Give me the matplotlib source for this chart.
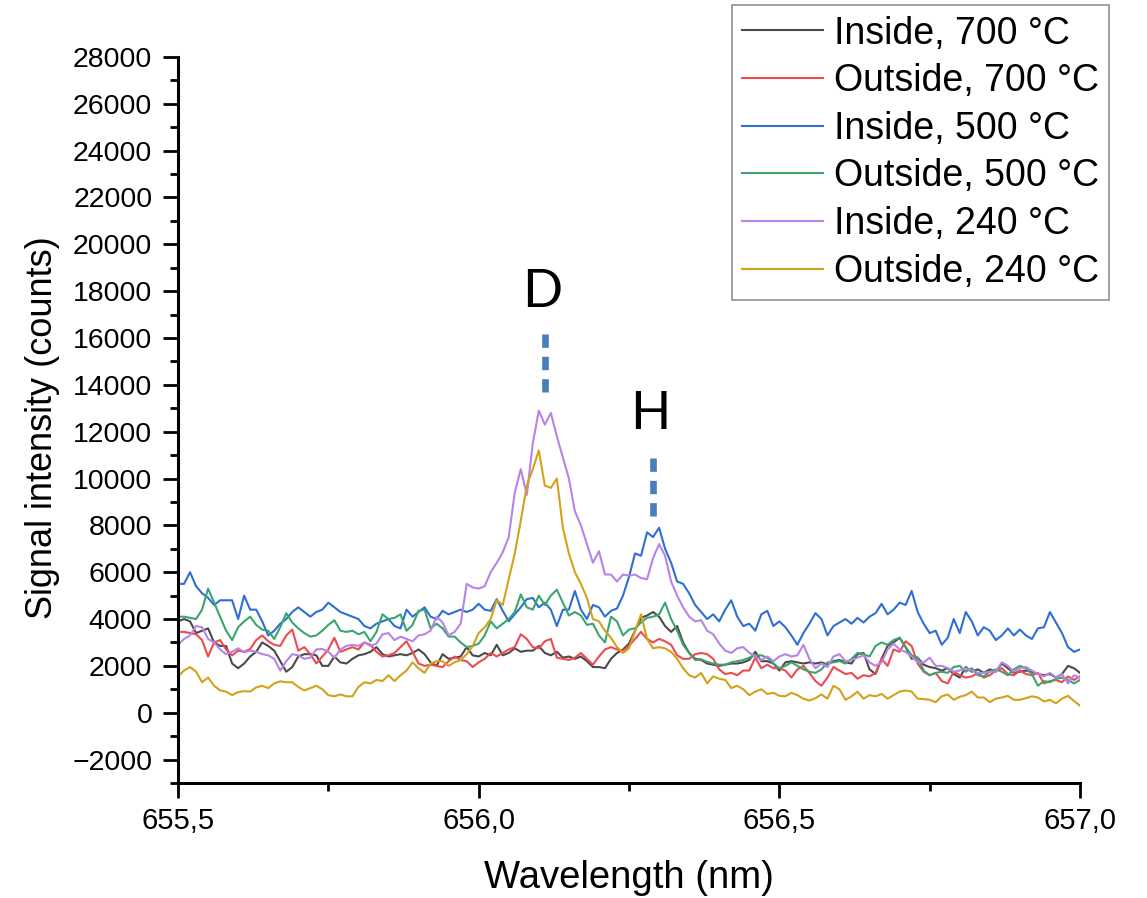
import numpy as np
import matplotlib
matplotlib.use("Agg")
import matplotlib.pyplot as plt
from matplotlib.ticker import MultipleLocator, FuncFormatter

plt.rcParams["font.family"] = ["Liberation Sans", "DejaVu Sans"]

# Wavelength grid (nm), 0.01 nm steps
wavelength = np.linspace(655.5, 657.0, 151)

inside_700 = [
    3900, 4000, 3900, 3400, 3500, 3600, 3000, 2850, 2850, 2100,
    1900, 2100, 2400, 2600, 3000, 2850, 2650, 2200, 1750, 1950,
    2400, 2500, 2500, 2450, 2000, 2000, 2400, 2150, 2100, 2300,
    2450, 2500, 2600, 2800, 2500, 2400, 2450, 2500, 2450, 2550,
    2700, 2500, 2150, 2000, 2500, 2300, 2350, 2400, 2800, 2450,
    2400, 2550, 2450, 2900, 2450, 2550, 2750, 2600, 2650, 2650,
    2850, 2550, 2450, 2600, 2350, 2400, 2300, 2400, 2200, 1950,
    1950, 1900, 2300, 2550, 2700, 2950, 3500, 4050, 4150, 4300,
    4100, 3700, 3450, 3700, 3000, 2550, 2300, 2250, 2100, 2050,
    2000, 2050, 2100, 2100, 2150, 2250, 2600, 2200, 2200, 2100,
    1800, 2150, 2200, 2150, 2100, 2150, 2100, 2150, 2050, 2200,
    2250, 2150, 2100, 2500, 2550, 1850, 1650, 2300, 2850, 3000,
    3200, 2800, 2300, 2350, 2050, 1950, 1900, 1800, 1900, 1650,
    1500, 1950, 1750, 1850, 1700, 1850, 1750, 2100, 1900, 1700,
    1750, 1800, 1750, 1650, 1600, 1650, 1500, 1650, 2000, 1900, 1700,
]

outside_700 = [
    3450, 3450, 3400, 3350, 3100, 2400, 3000, 3100, 2700, 2450,
    2650, 2600, 2720, 3100, 3300, 3050, 2900, 2850, 3300, 3550,
    2650, 2800, 2500, 2100, 2400, 2700, 3200, 2600, 2700, 2800,
    2700, 3000, 2900, 2600, 2400, 2450, 2550, 2800, 3050, 2600,
    2100, 2000, 2050, 2000, 1950, 2200, 2400, 2250, 2200, 1950,
    2150, 2300, 2550, 2400, 2550, 2700, 2800, 3350, 3150, 2800,
    2750, 3050, 3150, 2350, 2300, 2250, 2350, 2550, 2300, 2050,
    2400, 2700, 2800, 2700, 2650, 2850, 3150, 3450, 3150, 3000,
    3150, 3050, 2900, 2450, 2300, 2300, 2500, 2550, 2500, 2300,
    1850, 1650, 1700, 1600, 1800, 1800, 2350, 1900, 2050, 1900,
    1900, 1800, 1500, 1850, 2000, 1700, 1350, 1150, 1500, 1950,
    1800, 1650, 1700, 1450, 1600, 1550, 1700, 2300, 2000, 2700,
    2600, 3050, 2850, 2100, 1750, 1600, 1700, 1350, 1250, 1750,
    1600, 1500, 1550, 1700, 1500, 1600, 1800, 1900, 1650, 1600,
    1800, 1650, 1600, 1700, 1250, 1350, 1400, 1300, 1550, 1400, 1550,
]

inside_500 = [
    5500, 5500, 6000, 5400, 5100, 4900, 4600, 4800, 4800, 4800,
    4000, 5000, 4400, 4400, 3900, 3300, 3500, 3800, 4000, 4300,
    4500, 4300, 4100, 4300, 4400, 4700, 4500, 4300, 4200, 4100,
    4000, 3700, 3600, 3800, 3900, 4000, 3700, 3600, 4400, 4100,
    4300, 4500, 4100, 4000, 4350, 4200, 4300, 4400, 4300, 4400,
    4650, 4400, 4350, 4850, 4350, 3900, 4200, 4500, 4850, 4900,
    4500, 4700, 4400, 3700, 4400, 4400, 5200, 4400, 4000, 4600,
    4500, 4100, 4350, 4450, 5000, 5800, 6800, 6700, 7700, 7500,
    7900, 7000, 6400, 5600, 5500, 5100, 4600, 4300, 4000, 4200,
    3900, 4400, 4800, 4100, 3700, 3800, 3500, 4200, 4350, 3700,
    3900, 3650, 3300, 2900, 3400, 3800, 4250, 4000, 3300, 3700,
    3850, 4000, 3800, 4050, 3850, 4100, 4250, 4650, 4200, 4400,
    4700, 4600, 5200, 4300, 3800, 3400, 3500, 2900, 3200, 4000,
    3400, 4300, 3900, 3300, 3650, 3500, 3100, 3300, 3600, 3300,
    3550, 3300, 3150, 3600, 3650, 4300, 3850, 3400, 2800, 2600, 2700,
]

outside_500 = [
    4100, 4100, 4050, 4000, 4400, 5300, 4700, 4100, 3500, 3100,
    3650, 3900, 4100, 3750, 3550, 3500, 3150, 3650, 4250, 3850,
    3600, 3400, 3250, 3300, 3500, 3750, 3950, 3500, 3450, 3500,
    3350, 3450, 3050, 3450, 4200, 4000, 4050, 4200, 3500, 3750,
    4350, 4400, 3600, 3800, 3600, 3250, 3250, 3000, 2800, 2850,
    2950, 3300, 3900, 3600, 3800, 4000, 4300, 5050, 4500, 4400,
    5000, 4600, 5000, 5250, 4700, 4150, 4300, 4150, 3750, 3800,
    3300, 3000, 4100, 3900, 3300, 3550, 3600, 3850, 4050, 4100,
    4200, 4700, 4000, 3500, 2900, 2550, 2250, 2280, 2170, 2100,
    2050, 2050, 2150, 2200, 2250, 2350, 2450, 2450, 2350, 2100,
    1900, 2000, 2150, 2000, 1850, 1750, 1700, 1850, 2150, 2150,
    2200, 2100, 2300, 2550, 2500, 2400, 2850, 3000, 2900, 3100,
    3200, 2800, 2450, 2350, 1800, 1600, 1700, 1750, 1700, 1950,
    2000, 1750, 1900, 1600, 1550, 1750, 1850, 1750, 1600, 1850,
    2000, 1900, 1650, 1150, 1350, 1300, 1450, 1500, 1400, 1250, 1400,
]

inside_240 = [
    2900, 3150, 3300, 3700, 3650, 3150, 3000, 2700, 2500, 2600,
    2750, 2580, 2650, 2600, 2500, 2450, 2300, 1800, 2200, 2500,
    2450, 2300, 2350, 2700, 2720, 2600, 2350, 2700, 2850, 2900,
    2850, 3000, 2850, 2950, 3350, 3400, 3100, 3250, 3150, 3050,
    3300, 3350, 3500, 4100, 3850, 3300, 3450, 3800, 5500, 5350,
    5300, 5400, 6000, 6400, 6850, 7500, 9400, 10400, 9300, 11500,
    12900, 12300, 12800, 11800, 10900, 10000, 8600, 8000, 7200, 6400,
    6900, 5900, 5900, 5600, 5900, 5850, 5900, 5750, 5700, 6600,
    7200, 6700, 5600, 5000, 4500, 4100, 3900, 3950, 3500, 3350,
    2950, 2650, 2550, 2750, 2800, 2560, 2400, 2250, 2400, 2200,
    2400, 2500, 2400, 2450, 2900, 2300, 1900, 2100, 1950, 2400,
    2500, 2200, 2250, 2350, 2450, 2150, 2000, 2150, 2700, 2950,
    2700, 2600, 2400, 2150, 2150, 2350, 2000, 2000, 1900, 1750,
    1800, 1900, 1800, 1700, 1700, 1750, 1750, 2150, 2000, 1750,
    1900, 1950, 1800, 1650, 1550, 1700, 1500, 1650, 1250, 1600, 1500,
]

outside_240 = [
    1550, 1800, 1950, 1750, 1300, 1500, 1150, 950, 900, 750,
    880, 920, 900, 1080, 1150, 1050, 1250, 1340, 1300, 1300,
    1100, 950, 1050, 1150, 1000, 750, 700, 780, 700, 700,
    1100, 1300, 1250, 1400, 1350, 1600, 1350, 1600, 1800, 2150,
    1900, 1700, 2100, 2200, 2200, 2000, 2150, 2250, 2500, 2850,
    3400, 3650, 4000, 4800, 4600, 5700, 6800, 8200, 9700, 10400,
    11200, 9700, 9600, 10000, 7900, 6800, 6000, 5500, 4900, 4000,
    3900, 3500, 3200, 2800, 2550, 2750, 3500, 4200, 3150, 2750,
    2800, 2750, 2600, 2300, 1900, 1600, 1500, 1700, 1250, 1550,
    1450, 1400, 1050, 1150, 1000, 750, 900, 1000, 800, 850,
    720, 700, 850, 750, 600, 520, 620, 780, 600, 1150,
    1000, 550, 700, 900, 600, 750, 700, 800, 600, 750,
    900, 950, 900, 600, 580, 550, 450, 700, 780, 550,
    680, 750, 900, 650, 650, 450, 600, 650, 720, 550,
    550, 620, 700, 650, 480, 550, 400, 600, 720, 500, 300,
]

labels = ["Inside, 700 °C", "Outside, 700 °C", "Inside, 500 °C",
          "Outside, 500 °C", "Inside, 240 °C", "Outside, 240 °C"]
colors = ["#4a4a4a", "#ee4a4f", "#2f6fd2", "#3aa56e", "#b883e6", "#d3a21a"]
series = [inside_700, outside_700, inside_500, outside_500, inside_240, outside_240]

# peak markers (D and H lines)
peak_names = ["D", "H"]
peak_pos = [656.11, 656.29]
peak_bar = [(13700, 16500), (8400, 11250)]
peak_text_y = [17950, 12750]

fig = plt.figure(figsize=(11.47, 8.98), dpi=100)
ax = fig.add_axes([0.1552, 0.1281, 0.7864, 0.8085])

lines = []
for y, c, lab in zip(series, colors, labels):
    ln, = ax.plot(wavelength, y, color=c, lw=1.5, label=lab)
    lines.append(ln)

for name, xp, (y0, y1), yt in zip(peak_names, peak_pos, peak_bar, peak_text_y):
    ax.plot([xp, xp], [y0, y1], color="#4a7ebb", lw=4.8,
            linestyle=(0, (2.0, 1.35)), solid_capstyle="butt")
    ax.text(xp - 0.004, yt, name, fontsize=38, family="Lato",
            ha="center", va="center", color="black")

ax.set_xlim(655.5, 657.0)
ax.set_ylim(-3000, 28000)

ax.xaxis.set_major_locator(MultipleLocator(0.5))
ax.xaxis.set_minor_locator(MultipleLocator(0.25))
ax.yaxis.set_major_locator(MultipleLocator(2000))
ax.yaxis.set_minor_locator(MultipleLocator(1000))
ax.xaxis.set_major_formatter(FuncFormatter(lambda v, p: f"{v:.1f}".replace(".", ",")))

for side in ["top", "right"]:
    ax.spines[side].set_visible(False)
for side in ["left", "bottom"]:
    ax.spines[side].set_linewidth(2.2)

ax.tick_params(which="major", direction="out", length=10.5, width=2.0)
ax.tick_params(which="minor", direction="out", length=5.5, width=2.0)
ax.tick_params(axis="y", which="major", labelsize=20.5, pad=8)
ax.tick_params(axis="x", which="major", labelsize=21, pad=7)

ax.set_xlabel("Wavelength (nm)", fontsize=27.5, labelpad=18)
ax.set_ylabel("Signal intensity (counts)", fontsize=26, labelpad=9, y=0.49)

leg = fig.legend(handles=lines, loc="upper left", bbox_to_anchor=(0.638, 0.994),
                 bbox_transform=fig.transFigure, fontsize=27, frameon=True,
                 fancybox=False, edgecolor="#808080", handlelength=2.15,
                 handletextpad=0.3, labelspacing=0.31, borderpad=0.27,
                 borderaxespad=0)
leg.get_frame().set_linewidth(1.3)

fig.savefig("out.png", dpi=100, facecolor="white")
